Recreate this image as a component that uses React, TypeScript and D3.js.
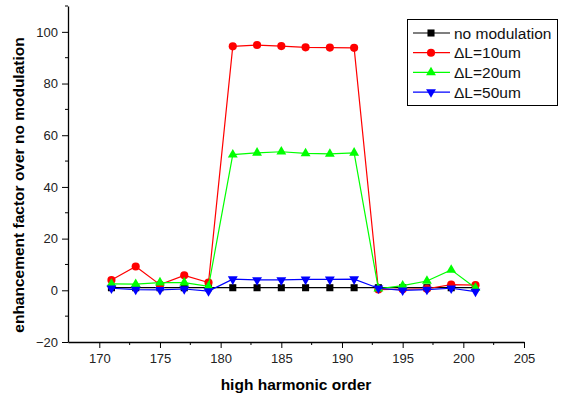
import React, { useRef, useEffect } from "react";
import * as d3 from "d3";

const orders = [171, 173, 175, 177, 179, 181, 183, 185, 187, 189, 191, 193, 195, 197, 199, 201];
const noModulation = [1, 1, 1, 1, 1, 1, 1, 1, 1, 1, 1, 1, 1, 1, 1, 1];
const dL10 = [4.0, 9.2, 2.2, 5.8, 3.0, 94.4, 94.9, 94.5, 94.0, 93.9, 93.8, 0.3, 0.4, 0.6, 2.2, 2.0];
const dL20 = [2.5, 2.4, 3.0, 3.0, 1.5, 52.5, 53.2, 53.6, 53.0, 52.8, 53.2, 0.6, 1.8, 3.6, 7.9, 0.9];
const dL50 = [0.8, 0.3, 0.2, 0.5, -0.3, 4.3, 4.0, 4.0, 4.2, 4.2, 4.3, 0.8, 0.0, 0.3, 0.8, -0.5];

const xTicks = [170, 175, 180, 185, 190, 195, 200, 205];
const yTicks = [-20, 0, 20, 40, 60, 80, 100];

const seriesNames = ["no modulation", "\u0394L=10um", "\u0394L=20um", "\u0394L=50um"];
const seriesValues = [noModulation, dL10, dL20, dL50];
const seriesColors = ["#000000", "#ff0000", "#00ff00", "#0000ff"];
const seriesMarkers = ["square", "circle", "triangleUp", "triangleDown"];

const font = "Arial, 'Liberation Sans', Helvetica, sans-serif";

const App = () => {
    const ref = useRef(null);

    useEffect(() => {
        const svgWidth = 561;
        const svgHeight = 396;
        const margin = { top: 6, right: 37, bottom: 54, left: 68 };

        const svg = d3.select(ref.current)
            .attr("width", svgWidth)
            .attr("height", svgHeight);
        svg.selectAll("*").remove();

        const xScale = d3.scaleLinear()
            .domain([167.42, 205])
            .range([margin.left, svgWidth - margin.right]);

        const yScale = d3.scaleLinear()
            .domain([-20, 110])
            .range([svgHeight - margin.bottom, margin.top]);

        const bottom = svgHeight - margin.bottom;

        // X axis
        const xAxis = svg.append("g")
            .attr("transform", `translate(0,${bottom})`)
            .style("font-family", font);
        xAxis.call(d3.axisBottom(xScale)
            .tickValues(xTicks)
            .tickSize(6)
            .tickPadding(6)
            .tickSizeOuter(0)
            .tickFormat(d3.format("d")));
        xAxis.append("g").selectAll("line")
            .data(d3.range(172.5, 205, 5))
            .enter()
            .append("line")
            .attr("x1", d => xScale(d))
            .attr("x2", d => xScale(d))
            .attr("y1", 0)
            .attr("y2", 3)
            .attr("stroke", "#000");

        // Y axis
        const yAxis = svg.append("g")
            .attr("transform", `translate(${margin.left},0)`)
            .style("font-family", font);
        yAxis.call(d3.axisLeft(yScale)
            .tickValues(yTicks)
            .tickSize(6)
            .tickPadding(4)
            .tickSizeOuter(0)
            .tickFormat(d3.format("d")));
        yAxis.append("g").selectAll("line")
            .data(d3.range(-10, 111, 20))
            .enter()
            .append("line")
            .attr("x1", 0)
            .attr("x2", -3)
            .attr("y1", d => yScale(d))
            .attr("y2", d => yScale(d))
            .attr("stroke", "#000");

        svg.selectAll(".domain")
            .attr("stroke", "#000")
            .attr("stroke-width", 1.3);
        svg.selectAll(".tick line").attr("stroke", "#000");
        svg.selectAll(".tick text")
            .attr("fill", "#222")
            .style("font-size", "13px");

        // Axis titles
        svg.append("text")
            .attr("x", (margin.left + svgWidth - margin.right) / 2)
            .attr("y", 390)
            .attr("text-anchor", "middle")
            .style("font-family", font)
            .style("font-size", "15.5px")
            .style("font-weight", "bold")
            .text("high harmonic order");

        svg.append("text")
            .attr("transform", `translate(24,185) rotate(-90)`)
            .attr("text-anchor", "middle")
            .style("font-family", font)
            .style("font-size", "15.5px")
            .style("font-weight", "bold")
            .text("enhancement factor over no modulation");

        const symbolFor = (kind, size) => {
            if (kind === "square") return d3.symbol(d3.symbolSquare, 50)();
            if (kind === "circle") return d3.symbol(d3.symbolCircle, 52)();
            return d3.symbol(d3.symbolTriangle, size)();
        };

        const drawMarker = (g, kind, color) => {
            const p = g.append("path")
                .attr("d", symbolFor(kind, 42))
                .attr("fill", color);
            if (kind === "triangleDown") p.attr("transform", "rotate(180)");
            return p;
        };

        const line = d3.line()
            .x(d => xScale(d[0]))
            .y(d => yScale(d[1]));

        // Series
        seriesValues.forEach((values, i) => {
            const pts = orders.map((o, j) => [o, values[j]]);
            const g = svg.append("g");
            g.append("path")
                .datum(pts)
                .attr("d", line)
                .attr("fill", "none")
                .attr("stroke", seriesColors[i])
                .attr("stroke-width", 1.2);
            pts.forEach(p => {
                const mg = g.append("g")
                    .attr("transform", `translate(${xScale(p[0])},${yScale(p[1])})`);
                drawMarker(mg, seriesMarkers[i], seriesColors[i]);
            });
        });

        // Legend
        const legend = svg.append("g");
        legend.append("rect")
            .attr("x", 407.5)
            .attr("y", 19.5)
            .attr("width", 150)
            .attr("height", 86)
            .attr("fill", "#fff")
            .attr("stroke", "#000")
            .attr("stroke-width", 1);

        seriesNames.forEach((name, i) => {
            const ly = 33 + i * 19.7;
            legend.append("line")
                .attr("x1", 413)
                .attr("x2", 450)
                .attr("y1", ly)
                .attr("y2", ly)
                .attr("stroke", seriesColors[i])
                .attr("stroke-width", 1.2);
            const mg = legend.append("g")
                .attr("transform", `translate(431,${ly})`);
            drawMarker(mg, seriesMarkers[i], seriesColors[i]);
            legend.append("text")
                .attr("x", 454)
                .attr("y", ly + 5.5)
                .style("font-family", font)
                .style("font-size", "15.5px")
                .attr("fill", "#111")
                .text(name);
        });
    }, []);

    return (
        <div style={{ position: "absolute", left: 0, top: 0 }}>
            <svg ref={ref} style={{ display: "block" }}></svg>
        </div>
    );
};

export default App;
